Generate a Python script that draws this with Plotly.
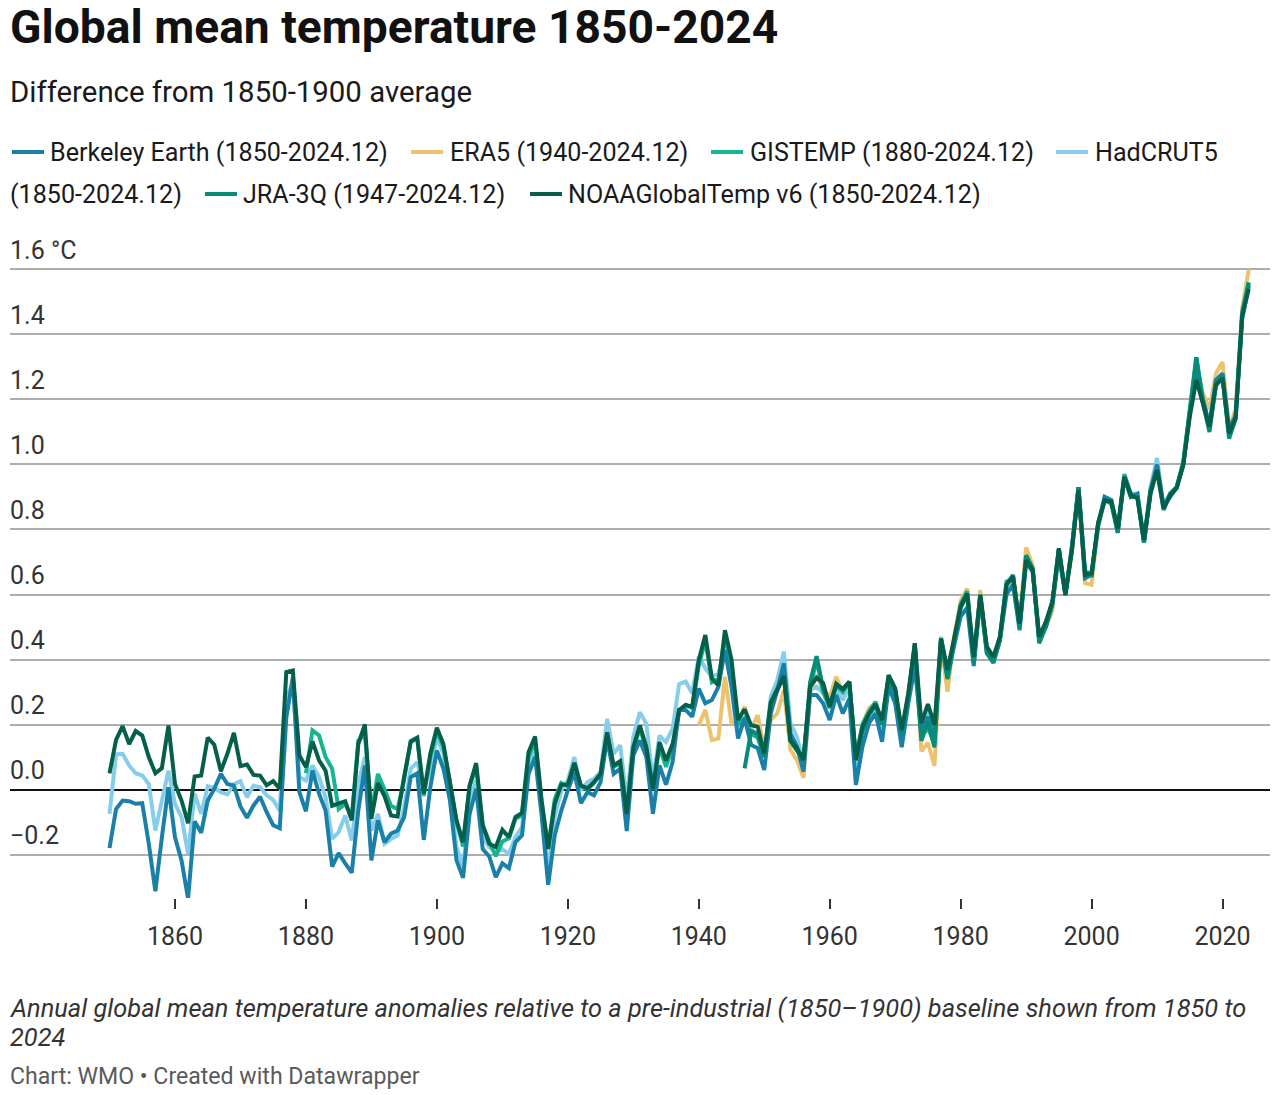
import plotly.graph_objects as go

FONT = "Roboto"
WIDTH = 1280
HEIGHT = 1095

YEARS = list(range(1850, 2025))

berkeley = [
    -0.18, -0.06, -0.034, -0.036, -0.044, -0.042, -0.167, -0.313, -0.147, 0.007,
    -0.147, -0.218, -0.336, -0.098, -0.133, -0.034, 0.002, 0.048, 0.017, 0.012,
    -0.052, -0.087, -0.049, -0.022, -0.07, -0.11, -0.119, 0.22, 0.345, -0.008,
    -0.067, 0.058, -0.013, -0.065, -0.237, -0.196, -0.227, -0.256, -0.065, 0.074,
    -0.218, -0.095, -0.162, -0.136, -0.126, -0.085, 0.038, 0.05, -0.155, 0.007,
    0.12, 0.064, -0.034, -0.218, -0.272, -0.075, 0.002, -0.183, -0.206, -0.27,
    -0.227, -0.242, -0.162, -0.141, 0.048, 0.1, -0.08, -0.293, -0.141, -0.065,
    -0.003, 0.053, -0.042, -0.008, -0.018, 0.023, 0.156, 0.048, 0.064, -0.128,
    0.105, 0.151, 0.1, -0.075, 0.074, 0.015, 0.084, 0.245, 0.245, 0.224,
    0.311, 0.265, 0.275, 0.316, 0.429, 0.316, 0.157, 0.219, 0.137, 0.127,
    0.06, 0.234, 0.306, 0.388, 0.173, 0.132, 0.055, 0.291, 0.291, 0.265,
    0.214, 0.291, 0.234, 0.28, 0.014, 0.132, 0.204, 0.234, 0.147, 0.316,
    0.265, 0.13, 0.265, 0.378, 0.173, 0.224, 0.152, 0.465, 0.352, 0.445,
    0.532, 0.56, 0.38, 0.59, 0.42, 0.39, 0.46, 0.6, 0.63, 0.49,
    0.7, 0.67, 0.46, 0.5, 0.57, 0.72, 0.6, 0.75, 0.93, 0.65,
    0.66, 0.81, 0.9, 0.89, 0.79, 0.96, 0.9, 0.91, 0.76, 0.92,
    1.0, 0.87, 0.9, 0.93, 1.0, 1.16, 1.28, 1.2, 1.12, 1.26,
    1.28, 1.11, 1.15, 1.45, 1.55,
]

era5 = [
    0.198, 0.245, 0.152, 0.157, 0.347, 0.204, 0.208, 0.255, 0.183, 0.229,
    0.122, 0.214, 0.234, 0.306, 0.122, 0.091, 0.036, 0.296, 0.352, 0.306,
    0.286, 0.347, 0.296, 0.306, 0.08, 0.2, 0.25, 0.265, 0.193, 0.342,
    0.3, 0.17, 0.29, 0.44, 0.118, 0.144, 0.073, 0.45, 0.301, 0.47,
    0.58, 0.619, 0.39, 0.614, 0.43, 0.39, 0.46, 0.62, 0.66, 0.52,
    0.745, 0.69, 0.47, 0.5, 0.55, 0.74, 0.6, 0.73, 0.93, 0.635,
    0.63, 0.81, 0.89, 0.89, 0.8, 0.96, 0.9, 0.91, 0.76, 0.92,
    0.99, 0.87, 0.9, 0.93, 1.0, 1.17, 1.31, 1.22, 1.17, 1.28,
    1.315, 1.11, 1.17, 1.48, 1.6,
]

gistemp = [
    0.05, 0.182, 0.166, 0.1, 0.064, -0.06, -0.044, -0.085, 0.15, 0.17,
    -0.07, 0.048, 0.0, -0.05, -0.06, 0.03, 0.15, 0.16, -0.02, 0.1,
    0.18, 0.13, 0.02, -0.1, -0.175, 0.01, 0.07, -0.11, -0.16, -0.205,
    -0.16, -0.15, -0.09, -0.08, 0.1, 0.15, -0.04, -0.18, -0.03, 0.02,
    0.01, 0.08, 0.01, 0.0, 0.02, 0.05, 0.17, 0.07, 0.08, -0.07,
    0.12, 0.19, 0.12, 0.0, 0.13, 0.07, 0.13, 0.24, 0.26, 0.25,
    0.38, 0.46, 0.33, 0.34, 0.47, 0.38, 0.2, 0.22, 0.17, 0.16,
    0.1, 0.26, 0.31, 0.35, 0.15, 0.12, 0.1, 0.31, 0.4, 0.3,
    0.25, 0.32, 0.3, 0.33, 0.1, 0.2, 0.24, 0.27, 0.2, 0.35,
    0.31, 0.17, 0.29, 0.44, 0.16, 0.19, 0.14, 0.46, 0.34, 0.45,
    0.57, 0.61, 0.4, 0.6, 0.43, 0.4, 0.47, 0.64, 0.65, 0.5,
    0.72, 0.68, 0.46, 0.5, 0.57, 0.74, 0.6, 0.74, 0.93, 0.66,
    0.66, 0.82, 0.9, 0.89, 0.8, 0.97, 0.91, 0.9, 0.76, 0.91,
    0.99, 0.87, 0.91, 0.93, 1.01, 1.17, 1.33, 1.2, 1.12, 1.26,
    1.27, 1.09, 1.15, 1.47, 1.56,
]

hadcrut5 = [
    -0.075, 0.108, 0.11, 0.074, 0.05, 0.043, 0.017, -0.126, -0.034, 0.058,
    -0.044, -0.085, -0.198, -0.013, -0.075, 0.01, 0.005, -0.008, -0.015, 0.017,
    0.026, -0.024, 0.012, 0.007, -0.018, -0.032, -0.065, 0.284, 0.325, 0.038,
    0.028, 0.074, 0.038, -0.024, -0.152, -0.131, -0.08, -0.157, 0.017, 0.1,
    -0.126, -0.075, -0.167, -0.152, -0.141, -0.055, 0.064, 0.084, 0.007, 0.058,
    0.161, 0.11, -0.013, -0.177, -0.239, -0.034, 0.028, -0.147, -0.177, -0.193,
    -0.183, -0.198, -0.147, -0.116, 0.069, 0.125, -0.054, -0.249, -0.085, -0.003,
    0.028, 0.1, -0.003, 0.023, 0.033, 0.053, 0.217, 0.11, 0.136, -0.034,
    0.161, 0.238, 0.202, 0.028, 0.166, 0.146, 0.187, 0.324, 0.332, 0.296,
    0.409, 0.373, 0.347, 0.357, 0.429, 0.347, 0.193, 0.214, 0.183, 0.173,
    0.101, 0.286, 0.337, 0.424, 0.204, 0.162, 0.081, 0.306, 0.316, 0.296,
    0.27, 0.306, 0.275, 0.316, 0.04, 0.16, 0.22, 0.25, 0.19, 0.33,
    0.29, 0.16, 0.28, 0.44, 0.17, 0.24, 0.17, 0.47, 0.35, 0.46,
    0.56, 0.6, 0.39, 0.59, 0.43, 0.4, 0.47, 0.62, 0.65, 0.5,
    0.7, 0.67, 0.47, 0.51, 0.58, 0.73, 0.6, 0.75, 0.93, 0.67,
    0.67, 0.81, 0.89, 0.89, 0.8, 0.96, 0.91, 0.91, 0.77, 0.93,
    1.02, 0.87, 0.91, 0.93, 1.0, 1.16, 1.29, 1.19, 1.11, 1.24,
    1.27, 1.1, 1.15, 1.45, 1.55,
]

jra3q = [
    0.065, 0.18, 0.17,
    0.1, 0.27, 0.31, 0.35, 0.15, 0.12, 0.09, 0.33, 0.41, 0.31,
    0.26, 0.32, 0.31, 0.33, 0.09, 0.18, 0.23, 0.26, 0.2, 0.34,
    0.3, 0.17, 0.28, 0.45, 0.15, 0.21, 0.13, 0.46, 0.34, 0.45,
    0.56, 0.6, 0.39, 0.6, 0.42, 0.39, 0.46, 0.63, 0.66, 0.5,
    0.72, 0.68, 0.45, 0.5, 0.57, 0.74, 0.6, 0.74, 0.93, 0.67,
    0.66, 0.82, 0.89, 0.88, 0.79, 0.96, 0.9, 0.9, 0.76, 0.92,
    0.98, 0.86, 0.91, 0.93, 1.0, 1.16, 1.33, 1.19, 1.1, 1.25,
    1.27, 1.08, 1.14, 1.46, 1.56,
]

noaa = [
    0.05, 0.153, 0.195, 0.14, 0.18, 0.166, 0.1, 0.05, 0.066, 0.197,
    0.017, -0.034, -0.104, 0.04, 0.043, 0.16, 0.138, 0.056, 0.11, 0.174,
    0.072, 0.077, 0.045, 0.043, 0.013, 0.026, 0.002, 0.361, 0.366, 0.105,
    0.069, 0.148, 0.09, 0.058, -0.05, -0.044, -0.036, -0.095, 0.14, 0.2,
    -0.09, 0.02, -0.02, -0.08, -0.083, 0.04, 0.146, 0.159, -0.013, 0.11,
    0.19, 0.14, 0.028, -0.095, -0.162, 0.012, 0.081, -0.11, -0.167, -0.177,
    -0.124, -0.147, -0.085, -0.072, 0.115, 0.163, -0.034, -0.183, -0.044, 0.015,
    0.015, 0.082, 0.012, 0.004, 0.023, 0.048, 0.176, 0.074, 0.087, -0.075,
    0.13, 0.197, 0.13, 0.002, 0.146, 0.089, 0.14, 0.245, 0.26, 0.255,
    0.398, 0.475, 0.342, 0.32, 0.49, 0.4, 0.214, 0.247, 0.198, 0.193,
    0.111, 0.265, 0.306, 0.349, 0.152, 0.127, 0.091, 0.316, 0.344, 0.327,
    0.255, 0.325, 0.308, 0.332, 0.091, 0.193, 0.234, 0.263, 0.214, 0.352,
    0.311, 0.183, 0.296, 0.45, 0.204, 0.263, 0.198, 0.465, 0.368, 0.46,
    0.563, 0.603, 0.408, 0.598, 0.44, 0.408, 0.47, 0.63, 0.655, 0.51,
    0.706, 0.675, 0.47, 0.516, 0.578, 0.742, 0.598, 0.737, 0.921, 0.66,
    0.665, 0.819, 0.89, 0.886, 0.803, 0.962, 0.906, 0.896, 0.768, 0.911,
    0.983, 0.865, 0.906, 0.927, 0.998, 1.147, 1.26, 1.188, 1.116, 1.245,
    1.265, 1.096, 1.142, 1.455, 1.54,
]

y_ticks = [-0.2, 0.2, 0.4, 0.6, 0.8, 1.0, 1.2, 1.4, 1.6]
y_zero_label = "0.0"
x_ticks = [1860, 1880, 1900, 1920, 1940, 1960, 1980, 2000, 2020]

# drawn back to front, the legend text below keeps the source's order
SERIES = [
    ("ERA5", era5, "#edc26f"),
    ("HadCRUT5", hadcrut5, "#85cdea"),
    ("GISTEMP", gistemp, "#16b58f"),
    ("Berkeley Earth", berkeley, "#1a80a8"),
    ("JRA-3Q", jra3q, "#078c78"),
    ("NOAAGlobalTemp v6", noaa, "#055f4b"),
]

# key start x, text x, row y, label, colour
LEGEND = [
    (12, 48, 153, "Berkeley Earth (1850-2024.12)", "#1a80a8"),
    (411, 448, 153, "ERA5 (1940-2024.12)", "#edc26f"),
    (711, 748, 153, "GISTEMP (1880-2024.12)", "#16b58f"),
    (1056, 1093, 153, "HadCRUT5", "#85cdea"),
    (None, 8, 194, "(1850-2024.12)", None),
    (205, 241, 194, "JRA-3Q (1947-2024.12)", "#078c78"),
    (530, 566, 194, "NOAAGlobalTemp v6 (1850-2024.12)", "#055f4b"),
]


def px(x):
    return x / WIDTH


def py(y):
    return 1 - y / HEIGHT


def page_text(x, y, text, size, color, **kw):
    return dict(
        xref="paper", yref="paper", x=px(x), y=py(y), text=text, showarrow=False,
        xanchor="left", yanchor="middle", align="left",
        font=dict(family=FONT, size=size, color=color, **kw),
    )


fig = go.Figure()

for name, values, color in SERIES:
    fig.add_trace(
        go.Scatter(
            x=YEARS[-len(values):],
            y=values,
            mode="lines",
            name=name,
            line=dict(color=color, width=4),
            cliponaxis=False,
        )
    )

annotations = [
    page_text(8, 27, "<b>Global mean temperature 1850-2024</b>", 46.2, "#111111"),
    page_text(8, 92, "Difference from 1850-1900 average", 29.4, "#1a1a1a"),
    page_text(8, 1008, "<i>Annual global mean temperature anomalies relative to a pre-industrial (1850–1900) baseline shown from 1850 to</i>", 25.4, "#333333"),
    page_text(8, 1037, "<i>2024</i>", 25.4, "#333333"),
    page_text(8, 1076, "Chart: WMO • Created with Datawrapper", 23.1, "#5a5a5a"),
]

shapes = []
for key_x, text_x, row_y, label, color in LEGEND:
    annotations.append(page_text(text_x, row_y, label, 25.1, "#1a1a1a"))
    if key_x is not None:
        shapes.append(
            dict(
                type="line", xref="paper", yref="paper",
                x0=px(key_x), x1=px(key_x + 32), y0=py(152), y1=py(152),
                line=dict(color=color, width=4),
            ) if row_y == 153 else dict(
                type="line", xref="paper", yref="paper",
                x0=px(key_x), x1=px(key_x + 32), y0=py(row_y), y1=py(row_y),
                line=dict(color=color, width=4),
            )
        )

# y labels sit on top of their gridline, first one carries the unit
for tick in y_ticks + [0.0]:
    label = y_zero_label if tick == 0 else f"{tick:.1f}".replace("-", "\u2212")
    if tick == 1.6:
        label += " °C"
    annotations.append(
        dict(
            xref="paper", yref="y", x=px(8), y=tick, yshift=19, text=label,
            showarrow=False, xanchor="left", yanchor="middle",
            font=dict(family=FONT, size=25, color="#333333"),
        )
    )

fig.update_layout(
    width=WIDTH,
    height=HEIGHT,
    margin=dict(l=0, r=0, t=0, b=0),
    plot_bgcolor="white",
    paper_bgcolor="white",
    showlegend=False,
    annotations=annotations,
    shapes=shapes,
    xaxis=dict(
        domain=[px(10), px(1270)],
        range=[1834.8, 2027.25],
        tickvals=x_ticks,
        ticks="outside",
        ticklen=10,
        tickwidth=2,
        tickcolor="#333333",
        showgrid=False,
        zeroline=False,
        showline=False,
        ticklabelstandoff=6,
        tickfont=dict(family=FONT, size=25, color="#333333"),
    ),
    yaxis=dict(
        domain=[py(898), py(262)],
        range=[-0.3338, 1.623],
        tickvals=y_ticks + [0.0],
        showticklabels=False,
        showgrid=True,
        gridcolor="#adadad",
        gridwidth=1.8,
        zeroline=True,
        zerolinecolor="#111111",
        zerolinewidth=2,
        layer="below traces",
    ),
)

fig.write_html(
    "out.html",
    config={"displayModeBar": False},
    post_script="document.body.style.margin = '0';",
)
